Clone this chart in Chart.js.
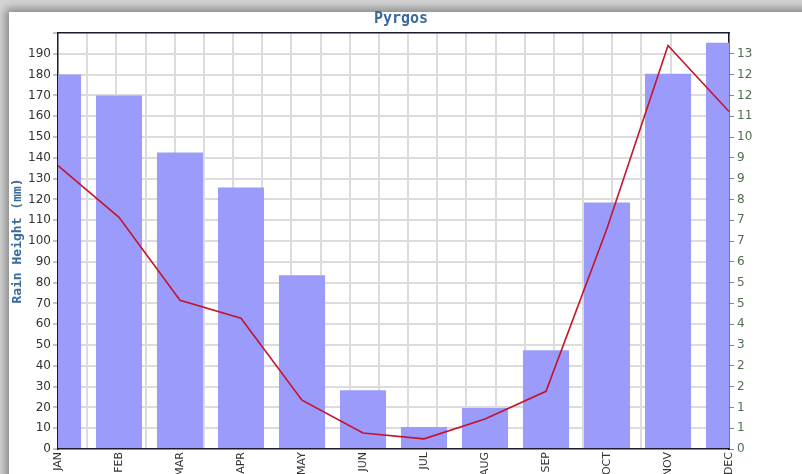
<!DOCTYPE html>
<html>
<head>
<meta charset="utf-8">
<script src="https://cdn.jsdelivr.net/npm/chart.js@4/dist/chart.umd.min.js"></script>
<style>
  body { margin: 0; background: #d4d4d4; overflow: hidden; }
  #painel { position: absolute; left: 9px; top: 12px; width: 810px; height: 480px; background: #fff; box-shadow: 0 0 9px 3px rgba(0,0,0,0.4); }
  #chuvaGrafico { position: absolute; left: 0; top: 0; }
</style>
</head>
<body>
<div id="painel"></div>
<canvas id="chuvaGrafico" width="802" height="474"></canvas>
<script>
const meses = ['JAN', 'FEB', 'MAR', 'APR', 'MAY', 'JUN', 'JUL', 'AUG', 'SEP', 'OCT', 'NOV', 'DEC'];
const alturaChuva = [180, 170, 142.5, 125.7, 83.5, 28.3, 10.6, 19.7, 47.5, 118.5, 180.4, 195.3];
const diasChuva = [9.24, 7.55, 4.85, 4.26, 1.59, 0.52, 0.33, 0.98, 1.88, 7.19, 13.15, 11.0];
const ticksEsquerda = [0, 10, 20, 30, 40, 50, 60, 70, 80, 90, 100, 110, 120, 130, 140, 150, 160, 170, 180, 190];
const rotulosDireita = ['0', '1', '1', '2', '2', '3', '4', '5', '5', '6', '7', '7', '8', '9', '9', '10', '11', '12', '12', '13'];

// relacao entre eixo da esquerda (mm) e da direita
const fator = 0.0678;
const maxEsq = 200;

const cinzaGrade = '#dcdcdc';
const transparente = 'rgba(0,0,0,0)';

Chart.defaults.font.family = 'DejaVu Sans';
Chart.defaults.font.size = 12;

const canva = document.getElementById('chuvaGrafico');

new Chart(canva, {
  type: 'bar',
  data: {
    labels: meses,
    datasets: [
      {
        type: 'line',
        label: 'Dias',
        data: diasChuva,
        yAxisID: 'y1',
        borderColor: '#c4142a',
        borderWidth: 1.6,
        pointRadius: 0,
        tension: 0,
        order: 0
      },
      {
        label: 'Rain Height (mm)',
        data: alturaChuva,
        yAxisID: 'y',
        backgroundColor: '#9b9bfb',
        categoryPercentage: 1,
        barPercentage: 0.755,
        clip: 0,
        order: 1
      }
    ]
  },
  options: {
    responsive: false,
    animation: false,
    devicePixelRatio: 1,
    layout: { padding: 0 },
    plugins: {
      legend: { display: false },
      tooltip: { enabled: false },
      title: {
        display: true,
        text: 'Pyrgos',
        color: '#3a6a9a',
        font: { family: 'DejaVu Sans Mono', size: 15, weight: 'bold' },
        padding: { top: 10, bottom: 5 }
      }
    },
    scales: {
      x: {
        offset: false,
        grid: { display: false, tickLength: 3 },
        border: { color: '#1a1a2a', width: 1.5 },
        ticks: {
          minRotation: 90,
          maxRotation: 90,
          autoSkip: false,
          padding: 0,
          color: '#333',
          font: { size: 11 }
        },
        afterFit: s => { s.height = 25; }
      },
      xg: {
        type: 'linear',
        position: 'top',
        min: 0,
        max: 11,
        ticks: { display: false, stepSize: 0.5 },
        grid: {
          drawTicks: false,
          lineWidth: 2,
          color: c => (c.tick && (c.tick.value === 0 || c.tick.value === 11)) ? transparente : cinzaGrade
        },
        border: { color: '#1a1a2a', width: 1.5 },
        afterFit: s => { s.height = 0; }
      },
      y: {
        position: 'left',
        min: 0,
        max: maxEsq,
        afterBuildTicks: s => { s.ticks = ticksEsquerda.concat([maxEsq]).map(v => ({ value: v })); },
        ticks: {
          padding: 2,
          color: '#333',
          callback: v => (v === maxEsq ? '' : v)
        },
        grid: {
          lineWidth: 2,
          tickLength: 5,
          tickColor: '#888',
          tickWidth: 1,
          color: c => (c.tick && (c.tick.value === 0 || c.tick.value === maxEsq)) ? transparente : cinzaGrade
        },
        border: { color: '#1a1a2a', width: 1.5 },
        title: {
          display: true,
          text: 'Rain Height (mm)',
          color: '#3a6a9a',
          font: { family: 'DejaVu Sans Mono', size: 13, weight: 'bold' },
          padding: { top: 10, bottom: 0 }
        },
        afterFit: s => { s.width = 58; }
      },
      y1: {
        position: 'right',
        min: 0,
        max: maxEsq * fator,
        afterBuildTicks: s => { s.ticks = ticksEsquerda.map(v => ({ value: v * fator })); },
        ticks: {
          padding: 3,
          color: '#4f6f4f',
          callback: (v, i) => rotulosDireita[i]
        },
        grid: {
          drawOnChartArea: false,
          tickLength: 5,
          tickColor: '#888'
        },
        border: { color: '#1a1a2a', width: 1.5 },
        afterFit: s => { s.width = 73; }
      }
    }
  }
});
</script>
</body>
</html>
